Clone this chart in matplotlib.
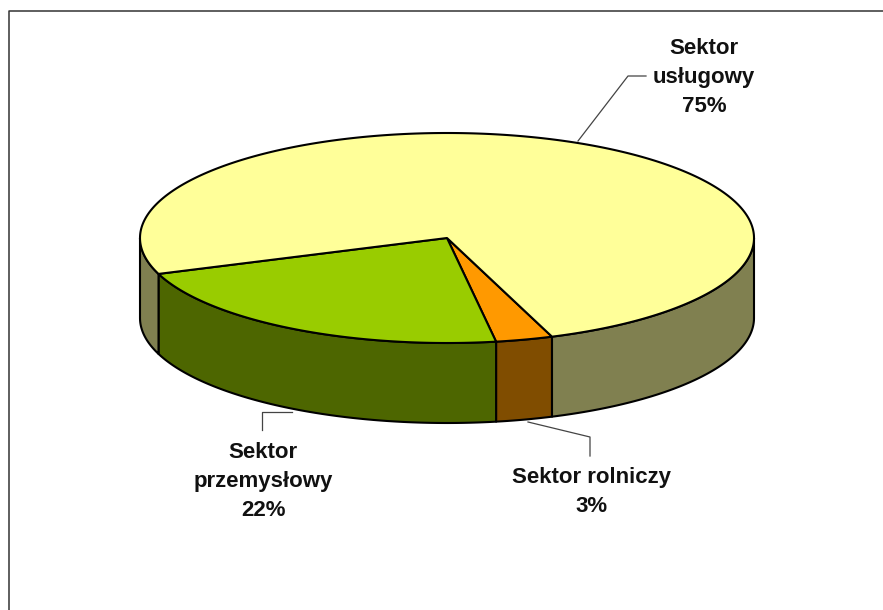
import numpy as np
import matplotlib
matplotlib.use("Agg")
import matplotlib.pyplot as plt
from matplotlib.patches import Polygon

# chart data
labels = ["Sektor rolniczy\n3%", "Sektor\nprzemysłowy\n22%", "Sektor\nusługowy\n75%"]
shares = [3, 22, 75]
top_colors = ["#FF9900", "#99CC00", "#FFFF99"]
side_colors = ["#804D00", "#4D6600", "#808050"]

# pie geometry in pixels
cx, cy = 447, 238
rx, ry = 307, 105
depth = 80
start_angle = -70


def rim(a0, a1, drop=0):
    t = np.radians(np.linspace(a0, a1, max(int(abs(a1 - a0)) * 2, 2)))
    return np.column_stack([cx + rx * np.cos(t), cy - ry * np.sin(t) + drop])


fig = plt.figure(figsize=(8.83, 6.10), dpi=100)
ax = fig.add_axes([0, 0, 1, 1])
ax.set_xlim(0, 883)
ax.set_ylim(610, 0)
ax.axis("off")

# chart frame, only left and top fall inside the picture
ax.plot([8.5, 8.5, 890], [620, 10.5, 10.5], color="#333333", lw=1.1, solid_capstyle="butt")

edges = np.cumsum([0] + shares) * 360 / sum(shares)
angles = start_angle - edges

# side walls first, the visible front half of the rim is -180..0
for i in range(len(shares)):
    for shift in (0, 360):
        a0 = min(angles[i] + shift, 0)
        a1 = max(angles[i + 1] + shift, -180)
        if a0 <= a1:
            continue
        wall = np.vstack([rim(a0, a1), rim(a1, a0, depth)])
        ax.add_patch(Polygon(wall, closed=True, fc=side_colors[i], ec="black", lw=1.5, joinstyle="round"))

# top faces
for i in range(len(shares)):
    pts = np.vstack([[[cx, cy]], rim(angles[i], angles[i + 1])])
    ax.add_patch(Polygon(pts, closed=True, fc=top_colors[i], ec="black", lw=1.5, joinstyle="round"))

# leader lines
leader_color = "#444444"
ax.plot([578, 628, 646], [141, 76, 76], color=leader_color, lw=0.9)
ax.plot([528, 590, 590], [422, 437, 456], color=leader_color, lw=0.9)
ax.plot([292, 262, 262], [412, 412, 430], color=leader_color, lw=0.9)

# slice labels
font = dict(family=["Liberation Sans", "DejaVu Sans"], fontsize=16, fontweight="bold",
            ha="center", va="center", color="#111111", linespacing=1.5)
ax.text(591, 492, labels[0], **font)
ax.text(263, 481, labels[1], **font)
ax.text(704, 77, labels[2], **font)

fig.savefig("out.png", dpi=100)
